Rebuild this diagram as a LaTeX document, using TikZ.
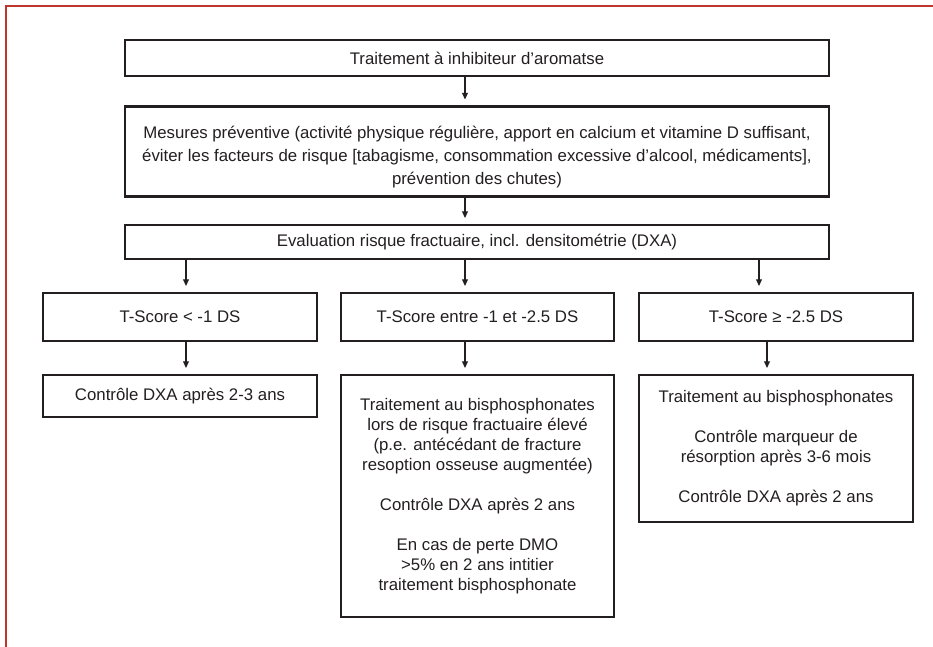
\documentclass[tikz,border=0pt]{standalone}
\usepackage{fontspec}
\setmainfont{Liberation Sans}
\usetikzlibrary{arrows.meta}
\definecolor{framered}{RGB}{190,55,45}
\definecolor{boxline}{RGB}{35,31,32}
\begin{document}
\begin{tikzpicture}[x=0.75pt,y=-0.75pt,
  box/.style={draw=boxline, line width=1.6pt, inner sep=0pt, align=center,
    font=\fontsize{12.6}{15}\selectfont, text=boxline},
  txt/.style={inner sep=0pt, align=center, font=\fontsize{12.6}{17.25}\selectfont, text=boxline},
  arr/.style={draw=boxline, -{Triangle[length=5pt,width=4.5pt]}, line width=0.8pt, shorten >=4.5pt}]
\useasboundingbox (0,0) rectangle (933,647);
\draw[framered, line width=2pt] (6,647) -- (6,6) -- (933,6);

\node[box, minimum width=528pt, minimum height=27pt] (b1) at (477,58)
  {Traitement à inhibiteur d’aromatse};
\node[box, minimum width=528pt, minimum height=67.5pt] (b2) at (477,151.5) {};
\node[txt] (b2t) at (477,157)
  {Mesures préventive (activité physique régulière, apport en calcium et vitamine D suffisant,\\
   éviter les facteurs de risque [tabagisme, consommation excessive d’alcool, médicaments],\\
   prévention des chutes)};
\node[box, minimum width=528pt, minimum height=25.5pt] (b3) at (477,242)
  {Evaluation risque fractuaire, incl. densitométrie (DXA)};

\node[box, minimum width=205.5pt, minimum height=36pt] (t1) at (180,317) {T-Score < -1 DS};
\node[box, minimum width=204.75pt, minimum height=36pt] (t2) at (477.5,317) {T-Score entre -1 et -2.5 DS};
\node[box, minimum width=205.5pt, minimum height=36pt] (t3) at (776,317) {T-Score ≥ -2.5 DS};

\node[box, minimum width=205.5pt, minimum height=31.5pt] (c1) at (180,396) {Contrôle DXA après 2-3 ans};
\node[box, minimum width=204.75pt, minimum height=181.5pt] (c2) at (477.5,496)
  {Traitement au bisphosphonates\\lors de risque fractuaire élevé\\(p.e. antécédant de fracture\\resoption osseuse augmentée)\\[15pt]
   Contrôle DXA après 2 ans\\[15pt]
   En cas de perte DMO\\>5\% en 2 ans intitier\\traitement bisphosphonate};
\node[box, minimum width=205.5pt, minimum height=110.25pt] (c3) at (776,448.5)
  {Traitement au bisphosphonates\\[15pt]Contrôle marqueur de\\résorption après 3-6 mois\\[15pt]Contrôle DXA après 2 ans};

\coordinate (xa) at (465,0);
\coordinate (xl) at (186,0);
\coordinate (xr) at (759,0);
\coordinate (xr2) at (767,0);

\draw[arr] (b1.south -| xa) -- (b2.north -| xa);
\draw[arr] (b2.south -| xa) -- (b3.north -| xa);
\draw[arr] (b3.south -| xl) -- (t1.north -| xl);
\draw[arr] (b3.south -| xa) -- (t2.north -| xa);
\draw[arr] (b3.south -| xr) -- (t3.north -| xr);
\draw[arr] (t1.south -| xl) -- (c1.north -| xl);
\draw[arr] (t2.south -| xa) -- (c2.north -| xa);
\draw[arr] (t3.south -| xr2) -- (c3.north -| xr2);
\end{tikzpicture}
\end{document}
